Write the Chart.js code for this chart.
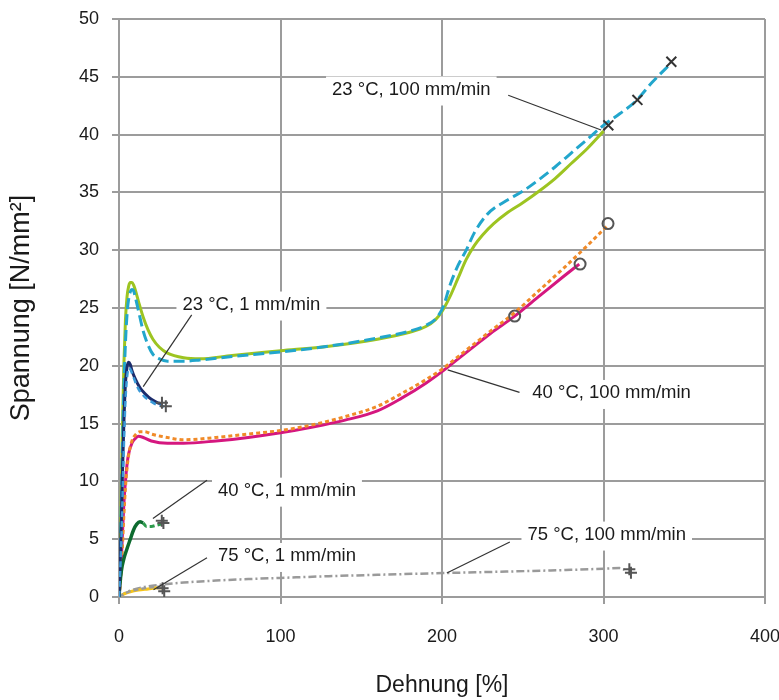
<!DOCTYPE html>
<html>
<head>
<meta charset="utf-8">
<script src="https://cdn.jsdelivr.net/npm/chart.js@4.4.1/dist/chart.umd.min.js"></script>
<style>
  html, body { margin: 0; padding: 0; background: #fff; }
  #wrap { width: 779px; height: 700px; }
</style>
</head>
<body>
<div id="wrap"><canvas id="myChart" width="779" height="700"></canvas></div>
<script>
// Dehnung [%] (x) and Spannung [N/mm²] (y) per curve

// 23 °C, 100 mm/min
var t23v100aX = [0, 1, 2, 3, 4, 5, 6, 7, 8, 9, 10, 12, 15, 18, 21, 25, 30, 40, 50, 70, 100, 130, 160, 180, 190, 196, 200, 205, 210, 215, 220, 225, 232, 240, 250, 260, 270, 280, 290, 300];
var t23v100aY = [0, 6, 14, 20, 24, 26, 26.9, 27.2, 27.2, 27, 26.6, 25.6, 24.2, 23.1, 22.3, 21.6, 21.1, 20.7, 20.6, 20.9, 21.3, 21.7, 22.3, 22.9, 23.4, 24, 24.7, 26, 27.6, 29.2, 30.4, 31.3, 32.3, 33.2, 34.1, 35.1, 36.2, 37.5, 38.8, 40.3];
var t23v100bX = [0, 1, 2, 3, 4, 5, 6, 7, 8, 9, 10, 12, 15, 18, 21, 25, 30, 40, 50, 70, 100, 130, 160, 180, 190, 197, 201, 205, 210, 215, 220, 228, 240, 250, 260, 270, 280, 290, 300, 310, 320, 330, 342];
var t23v100bY = [0, 5, 12, 18, 22, 24.5, 25.8, 26.4, 26.6, 26.5, 26, 24.8, 23, 21.8, 21, 20.6, 20.4, 20.4, 20.5, 20.8, 21.2, 21.7, 22.4, 23, 23.5, 24.2, 25.2, 27, 28.7, 30, 31.5, 33.1, 34.3, 35.1, 36.1, 37.2, 38.4, 39.6, 40.8, 41.8, 42.9, 44.5, 46.2];
var t23v100EndX = [303, 321, 342];
var t23v100EndY = [40.8, 43, 46.3];

// 23 °C, 1 mm/min
var t23v1aX = [0, 1, 2, 3, 4, 5, 6, 7, 8, 10, 13, 16, 20, 24, 27];
var t23v1aY = [0, 4, 10, 15, 18.5, 19.9, 20.3, 20.1, 19.6, 18.9, 18.1, 17.6, 17.1, 16.8, 16.7];
var t23v1bX = [0, 1.5, 3, 4, 5, 6, 7, 9, 12, 16, 20, 24, 28];
var t23v1bY = [0, 5, 13, 17, 19, 19.8, 19.7, 19, 18, 17.3, 16.9, 16.6, 16.5];
var t23v1EndX = [26.6, 29];
var t23v1EndY = [16.8, 16.5];

// 40 °C, 100 mm/min
var t40v100aX = [0, 1, 2, 3, 4, 5, 6, 8, 10, 12, 15, 20, 30, 40, 60, 80, 100, 120, 140, 160, 175, 190, 200, 210, 220, 230, 245, 260, 275, 285];
var t40v100aY = [0, 2, 5, 8, 10, 11.5, 12.4, 13.3, 13.7, 13.9, 13.8, 13.5, 13.3, 13.3, 13.5, 13.8, 14.2, 14.7, 15.3, 16.1, 17.2, 18.5, 19.5, 20.6, 21.7, 22.8, 24.3, 26, 27.7, 28.8];
var t40v100bX = [0, 1, 2, 3, 4, 5, 6, 8, 10, 13, 16, 20, 30, 40, 60, 80, 100, 120, 140, 160, 175, 190, 200, 210, 220, 230, 245, 260, 275, 290, 303];
var t40v100bY = [0, 1.5, 4, 7, 9.5, 11.2, 12.3, 13.5, 14, 14.3, 14.3, 14.1, 13.8, 13.6, 13.8, 14.1, 14.4, 14.9, 15.6, 16.5, 17.6, 18.8, 19.7, 20.8, 21.9, 23, 24.6, 26.5, 28.4, 30.4, 32.2];
var t40v100EndX = [245, 285.5, 302.8];
var t40v100EndY = [24.3, 28.8, 32.3];

// 40 °C, 1 mm/min
var t40v1aX = [0, 0.5, 1.5, 3, 5, 7, 9, 11, 13, 15];
var t40v1aY = [0, 1, 2.3, 3.3, 4.2, 5, 5.8, 6.3, 6.5, 6.4];
var t40v1bX = [15, 17, 20, 23, 26];
var t40v1bY = [6.4, 6.1, 6.1, 6.2, 6.3];
var t40v1EndX = [26.5, 27.5];
var t40v1EndY = [6.6, 6.4];

// 75 °C, 1 mm/min
var t75v1aX = [0, 3, 7, 12, 18, 24, 27];
var t75v1aY = [0, 0.25, 0.45, 0.6, 0.7, 0.8, 0.8];
var t75v1bX = [0, 5, 10, 20, 27];
var t75v1bY = [0, 0.4, 0.6, 0.85, 0.9];
var t75v1EndX = [27, 28];
var t75v1EndY = [0.75, 0.5];

// 75 °C, 100 mm/min
var t75v100X = [0, 3, 8, 15, 25, 40, 60, 80, 100, 130, 160, 200, 240, 280, 300, 310, 313];
var t75v100Y = [0, 0.3, 0.6, 0.85, 1.05, 1.25, 1.42, 1.55, 1.65, 1.8, 1.92, 2.07, 2.2, 2.35, 2.45, 2.5, 2.35];
var t75v100EndX = [316, 317];
var t75v100EndY = [2.4, 2.1];

var xTicks = [0, 100, 200, 300, 400];
var yTicks = [0, 5, 10, 15, 20, 25, 30, 35, 40, 45, 50];

// curve labels with leader lines (data units)
var notes = [
  { text: '23 °C, 100 mm/min', x: 181, y: 43.9, from: [241, 43.4], to: [298.5, 40.4] },
  { text: '23 °C, 1 mm/min', x: 82, y: 25.3, from: [45, 24.4], to: [15, 18.2] },
  { text: '40 °C, 100 mm/min', x: 305, y: 17.65, from: [248, 17.7], to: [203.5, 19.65] },
  { text: '40 °C, 1 mm/min', x: 104, y: 9.2, from: [54.5, 10.1], to: [21, 6.8] },
  { text: '75 °C, 1 mm/min', x: 104, y: 3.55, from: [54.5, 3.4], to: [21.4, 0.63] },
  { text: '75 °C, 100 mm/min', x: 302, y: 5.4, from: [242, 4.76], to: [203, 2.08] }
];

var FONT = '"Liberation Sans", Arial, Helvetica, sans-serif';
var NOTE_FONT = '18.5px ' + FONT;

function pts(xs, ys) {
  return xs.map(function (x, i) { return { x: x, y: ys[i] }; });
}

function curve(xs, ys, color, dash, width) {
  return {
    data: pts(xs, ys),
    borderColor: color,
    borderWidth: width || 3,
    borderDash: dash || [],
    pointRadius: 0,
    fill: false,
    cubicInterpolationMode: 'monotone'
  };
}

function marks(xs, ys, style, color, r) {
  return {
    data: pts(xs, ys),
    showLine: false,
    pointStyle: style,
    pointRadius: r || 6,
    pointBorderColor: color || '#444',
    pointBackgroundColor: 'rgba(0,0,0,0)',
    pointBorderWidth: 2
  };
}

var notesPlugin = {
  id: 'notes',
  beforeDatasetsDraw: function (chart) {
    var ctx = chart.ctx, xs = chart.scales.x, ys = chart.scales.y;
    ctx.save();
    ctx.font = NOTE_FONT;
    ctx.fillStyle = '#fff';
    notes.forEach(function (n) {
      var w = ctx.measureText(n.text).width;
      var cx = xs.getPixelForValue(n.x), cy = ys.getPixelForValue(n.y);
      ctx.fillRect(cx - w / 2 - 6, cy - 13, w + 12, 29);
    });
    ctx.restore();
  },
  afterDatasetsDraw: function (chart) {
    var ctx = chart.ctx, xs = chart.scales.x, ys = chart.scales.y;
    ctx.save();
    ctx.strokeStyle = '#333';
    ctx.lineWidth = 1.2;
    notes.forEach(function (n) {
      ctx.beginPath();
      ctx.moveTo(xs.getPixelForValue(n.from[0]), ys.getPixelForValue(n.from[1]));
      ctx.lineTo(xs.getPixelForValue(n.to[0]), ys.getPixelForValue(n.to[1]));
      ctx.stroke();
    });
    ctx.font = NOTE_FONT;
    ctx.fillStyle = '#1a1a1a';
    ctx.textAlign = 'center';
    ctx.textBaseline = 'middle';
    notes.forEach(function (n) {
      ctx.fillText(n.text, xs.getPixelForValue(n.x), ys.getPixelForValue(n.y));
    });
    ctx.restore();
  }
};

var ctx = document.getElementById('myChart').getContext('2d');
var myChart = new Chart(ctx, {
  type: 'line',
  data: {
    datasets: [
      marks(t23v100EndX, t23v100EndY, 'crossRot', '#333', 7),
      marks(t40v100EndX, t40v100EndY, 'circle', '#555', 5.5),
      marks(t23v1EndX, t23v1EndY, 'cross', '#555'),
      marks(t40v1EndX, t40v1EndY, 'cross', '#555'),
      marks(t75v1EndX, t75v1EndY, 'cross', '#555'),
      marks(t75v100EndX, t75v100EndY, 'cross', '#555'),
      curve(t23v1bX, t23v1bY, '#3b9ad8', [6, 4], 2.5),
      curve(t23v1aX, t23v1aY, '#1c2c6c', [], 3),
      curve(t40v1bX, t40v1bY, '#2d9a4c', [5, 3], 3),
      curve(t40v1aX, t40v1aY, '#0d6a2f', [], 3.5),
      curve(t75v1bX, t75v1bY, '#9a9a9a', [5, 3], 2.5),
      curve(t75v1aX, t75v1aY, '#f5c41a', [], 3),
      curve(t75v100X, t75v100Y, '#9a9a9a', [8, 3, 2, 3], 2.5),
      curve(t40v100bX, t40v100bY, '#f08a28', [4, 3], 3),
      curve(t40v100aX, t40v100aY, '#d5177f', [], 3),
      curve(t23v100bX, t23v100bY, '#22a6cc', [11, 5], 3),
      curve(t23v100aX, t23v100aY, '#9dc421', [], 3)
    ]
  },
  options: {
    responsive: false,
    animation: false,
    devicePixelRatio: 1,
    layout: { padding: { top: 19, right: 14, left: 0, bottom: 0 } },
    scales: {
      x: {
        type: 'linear',
        min: 0,
        max: 400,
        afterBuildTicks: function (s) { s.ticks = xTicks.map(function (v) { return { value: v }; }); },
        afterFit: function (s) { s.height = 103; s.paddingLeft = 0; s.paddingRight = 0; },
        grid: { color: '#9c9c9c', lineWidth: 2, tickLength: 7 },
        border: { color: '#9c9c9c', width: 2 },
        ticks: { color: '#1a1a1a', font: { family: FONT, size: 18 }, padding: 22, maxRotation: 0 },
        title: { display: true, text: 'Dehnung [%]', color: '#1a1a1a', font: { family: FONT, size: 23 }, padding: { top: 0, bottom: 1 } }
      },
      y: {
        type: 'linear',
        min: 0,
        max: 50,
        afterBuildTicks: function (s) { s.ticks = yTicks.map(function (v) { return { value: v }; }); },
        afterFit: function (s) { s.width = 119; s.paddingTop = 0; s.paddingBottom = 0; },
        grid: { color: '#9c9c9c', lineWidth: 2, tickLength: 7 },
        border: { color: '#9c9c9c', width: 2 },
        ticks: { color: '#1a1a1a', font: { family: FONT, size: 18 }, padding: 13 },
        title: { display: true, text: 'Spannung [N/mm²]', color: '#1a1a1a', font: { family: FONT, size: 27 }, padding: { top: 5, bottom: 0 } }
      }
    },
    plugins: {
      legend: { display: false },
      tooltip: { enabled: false }
    }
  },
  plugins: [notesPlugin]
});
</script>
</body>
</html>
